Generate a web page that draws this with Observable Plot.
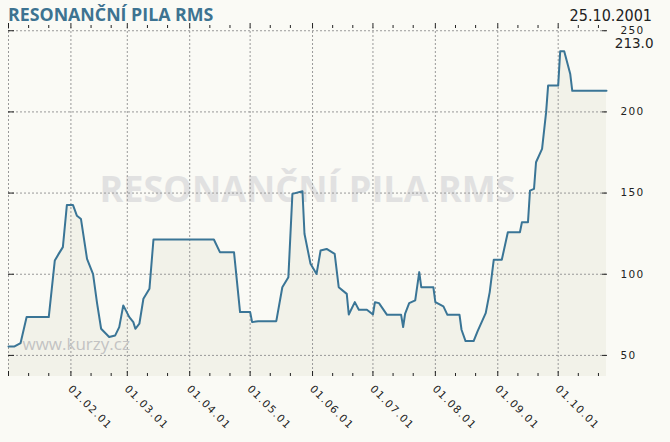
<!DOCTYPE html>
<html><head><meta charset="utf-8">
<script src="https://cdn.jsdelivr.net/npm/d3@7"></script>
<script src="https://cdn.jsdelivr.net/npm/@observablehq/plot@0.6"></script>
<style>
html,body{margin:0;padding:0;background:#fafaf5;}
#wrap{position:relative;width:670px;height:442px;overflow:hidden;}
#hdr{position:relative;height:20px;}
#title{position:absolute;left:8px;top:5.5px;line-height:1;font-family:"Open Sans";font-weight:700;font-size:17.8px;color:#3d7391;white-space:nowrap;}
#date{position:absolute;right:18px;top:8px;line-height:1;font-family:"DejaVu Sans Condensed";font-size:16px;color:#222;white-space:nowrap;}
#chart svg g[aria-label="x-axis tick label"] text, #chart svg g[aria-label="y-axis tick label"] text{letter-spacing:1.3px;}
</style></head>
<body><div id="wrap"><div id="hdr"><div id="title"></div><div id="date"></div></div><div id="chart"></div></div>
<script>
const titleText = "RESONANČNÍ PILA RMS";
const dateLabel = "25.10.2001";
const siteLabel = "www.kurzy.cz";

const dates = [
"2001-01-01","2001-01-04","2001-01-07","2001-01-10","2001-01-21","2001-01-24","2001-01-26","2001-01-28","2001-01-30",
"2001-02-02","2001-02-04","2001-02-06","2001-02-09","2001-02-12","2001-02-14","2001-02-16","2001-02-20","2001-02-23","2001-02-25","2001-02-27",
"2001-03-02","2001-03-04","2001-03-05","2001-03-07","2001-03-09","2001-03-12","2001-03-14",
"2001-04-13","2001-04-16","2001-04-23","2001-04-26",
"2001-05-01","2001-05-02","2001-05-05","2001-05-14","2001-05-17","2001-05-20","2001-05-22","2001-05-27","2001-05-28","2001-05-31",
"2001-06-03","2001-06-05","2001-06-08","2001-06-12","2001-06-14","2001-06-18","2001-06-19","2001-06-22","2001-06-24","2001-06-28",
"2001-07-01","2001-07-02","2001-07-04","2001-07-08","2001-07-15","2001-07-16","2001-07-17","2001-07-19","2001-07-22","2001-07-24","2001-07-25","2001-07-31",
"2001-08-01","2001-08-05","2001-08-07","2001-08-13","2001-08-14","2001-08-16","2001-08-20","2001-08-22","2001-08-26","2001-08-28","2001-08-30",
"2001-09-03","2001-09-06","2001-09-12","2001-09-13","2001-09-16","2001-09-17","2001-09-19","2001-09-20","2001-09-23","2001-09-25","2001-09-26",
"2001-10-01","2001-10-02","2001-10-04","2001-10-07","2001-10-08","2001-10-25"
];
const values = [
55.5,55.5,57.6,73.6,73.6,108.5,112.7,116.7,142.7,
142.7,136,134,109.5,100,82,66.4,61.3,62.3,67.4,80.8,
73.6,70.5,66.4,69.5,84.9,91,121.4,
121.4,113.6,113.6,76.7,
76.7,70.5,71.1,71.1,92,98.2,149.5,151.1,124.9,106.4,
100.2,114.6,115.6,112.6,92,87.9,75.2,82.8,78.1,78.1,
75.2,82.8,82.2,75,75,67.5,75.8,82.2,83.9,101.3,92,92,
82.8,80.2,75,75,65.8,58.8,58.8,65,76,89,108.9,
108.9,125.9,125.9,132,132,151.5,152.6,169,177.2,199.7,216.2,
216.2,237.3,237.3,223.3,213,213
];
const yTicks = [50,100,150,200,250];
const monthTicks = ["2001-01-01","2001-02-01","2001-03-01","2001-04-01","2001-05-01","2001-06-01","2001-07-01","2001-08-01","2001-09-01","2001-10-01"];
const labelTicks = ["2001-02-01","2001-03-01","2001-04-01","2001-05-01","2001-06-01","2001-07-01","2001-08-01","2001-09-01","2001-10-01"];
const minorTicks = [];
for (let m = 1; m <= 10; m++) for (const dd of ["11","21"]) minorTicks.push(`2001-${String(m).padStart(2,"0")}-${dd}`);

document.getElementById("title").textContent = titleText;
document.getElementById("date").textContent = dateLabel;

const P = s => new Date(s + "T00:00:00Z");
const data = dates.map((d, i) => ({date: P(d), value: values[i]}));
const lastValue = values[values.length - 1];
const xDomain = [P("2001-01-01"), P("2001-10-25")];
const yDomain = [37, 252];
const tickColor = "#222";
const grid = {stroke: "#999", strokeOpacity: 1, strokeDasharray: "2,2", strokeWidth: 1};

const chart = Plot.plot({
  width: 670, height: 422,
  marginTop: 7, marginBottom: 66, marginLeft: 8, marginRight: 64,
  style: {background: "transparent", fontFamily: "DejaVu Sans", fontSize: "10.5px", color: tickColor, overflow: "visible"},
  x: {type: "utc", domain: xDomain, axis: null, label: null},
  y: {domain: yDomain, axis: null, label: null},
  marks: [
    Plot.text([titleText], {frameAnchor: "middle", dy: -12, fontSize: 36, fontWeight: 700, fontFamily: "Open Sans", fill: "#e1e1e1"}),
    Plot.areaY(data, {x: "date", y: "value", fill: "#f2f2e9", clip: true}),
    Plot.gridX({ticks: monthTicks.map(P), ...grid}),
    Plot.gridY({ticks: yTicks, ...grid}),
    Plot.text([siteLabel], {frameAnchor: "bottom-left", textAnchor: "start", lineAnchor: "bottom", dx: 14, dy: -27, fontSize: 17, fontFamily: "Open Sans", fill: "#c3c3c3"}),
    Plot.lineY(data, {x: "date", y: "value", stroke: "#3a7596", strokeWidth: 2}),
    Plot.axisX({anchor: "bottom", ticks: minorTicks.map(P), tickSize: -3, tickFormat: () => "", label: null, stroke: tickColor}),
    Plot.axisX({anchor: "bottom", ticks: monthTicks.map(P), tickSize: -5, tickFormat: () => "", label: null, stroke: tickColor}),
    Plot.axisX({anchor: "top", ticks: minorTicks.map(P), tickSize: 3, tickFormat: () => "", label: null, stroke: tickColor}),
    Plot.axisX({anchor: "top", ticks: monthTicks.map(P), tickSize: 5, tickFormat: () => "", label: null, stroke: tickColor}),
    Plot.axisX({anchor: "bottom", ticks: labelTicks.map(P), tickSize: 0, tickPadding: 10.5, dx: -1, tickRotate: 45, textAnchor: "start", tickFormat: d3.utcFormat("%d.%m.%y"), label: null, fill: tickColor}),
    Plot.axisY({anchor: "right", ticks: yTicks, tickSize: -5, tickFormat: () => "", label: null, stroke: tickColor}),
    Plot.axisY({anchor: "left", ticks: yTicks, tickSize: -6, tickFormat: () => "", label: null, stroke: tickColor}),
    Plot.axisY({anchor: "right", ticks: yTicks, tickSize: 0, tickPadding: 14, label: null, fill: tickColor}),
    Plot.text([lastValue], {frameAnchor: "top-right", text: d => d.toFixed(1), textAnchor: "end", lineAnchor: "middle", dx: 47, dy: 16.5, fontSize: 13.5, fill: tickColor})
  ]
});
document.getElementById("chart").appendChild(chart);
</script>
</body></html>
